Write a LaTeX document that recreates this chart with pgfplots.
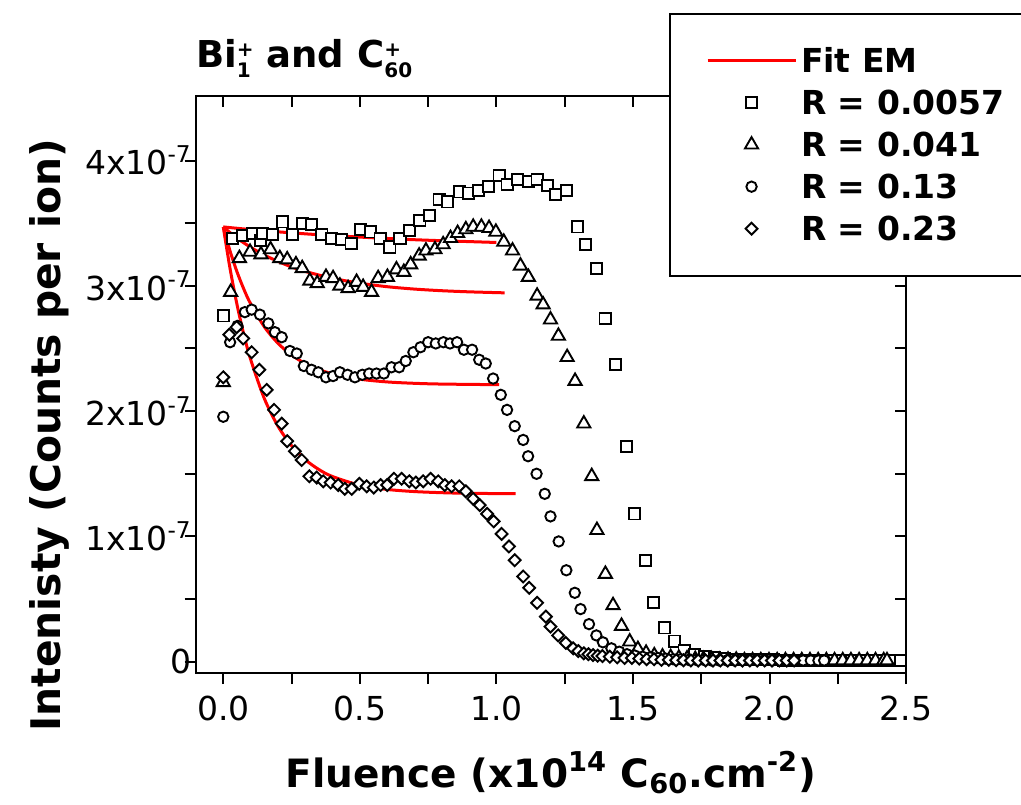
\documentclass[border=0pt]{standalone}
\usepackage{pgfplots}
\pgfplotsset{compat=1.18}
\usepackage{fontspec}
\setmainfont{DejaVu Sans}
\newcommand{\tickfont}{\fontsize{16.5}{19}\selectfont}
\newcommand{\xlabfont}{\fontsize{19.5}{23}\selectfont\bfseries}
\newcommand{\ylabfont}{\fontsize{20.4}{24}\selectfont\bfseries}
\newcommand{\legfont}{\fontsize{16.5}{19}\selectfont\bfseries}
\newcommand{\titfont}{\fontsize{18.5}{22}\selectfont\bfseries}
\newcommand{\stk}[2]{\raisebox{-4.6pt}{\fontsize{10}{11.5}\selectfont\shortstack[l]{#1\\#2}}}
\begin{document}
\begin{tikzpicture}
\pgfplotsset{
  common/.style={
    scale only axis, width=355.2pt, height=288.5pt,
    xmin=-0.101, xmax=2.5, ymin=-0.09, ymax=4.515,
    xtick={0,0.5,1,1.5,2,2.5}, ytick={0,1,2,3,4},
    minor x tick num=1, minor y tick num=1,
    major tick length=5.5pt, minor tick length=5.5pt,
    tick style={line width=1pt, black},
    axis line style={line width=1pt},
  }
}
\begin{axis}[common, tick align=inside, xtick pos=right, ytick pos=right,
  xticklabels={}, yticklabels={}]
\addplot[draw=none] coordinates {(0,0)};
\end{axis}
\begin{axis}[common, tick align=outside, xtick pos=left, ytick pos=left,
  xticklabels={0.0,0.5,1.0,1.5,2.0,2.5},
  yticklabels={0,1x10\textsuperscript{-7},2x10\textsuperscript{-7},3x10\textsuperscript{-7},4x10\textsuperscript{-7}},
  tick label style={font=\tickfont},
  yticklabel style={xshift=7pt},
  xticklabel style={yshift=-2.5pt},
  xlabel={Fluence (x10\textsuperscript{14} C\textsubscript{60}.cm\textsuperscript{-2})},
  ylabel={Intenisty (Counts per ion)},
  x label style={font=\xlabfont, at={(axis description cs:0.5,-0.1976)}, anchor=base},
  y label style={font=\ylabfont, at={(axis description cs:-0.191,0.412)}, anchor=base},
  title={Bi\stk{+}{1} and C\stk{+}{60}},
  title style={font=\titfont, inner sep=0pt, at={(axis description cs:0,1.028)}, anchor=base west},
  legend style={at={(0.6663,1.1444)}, anchor=north west, draw=black, line width=1pt, fill=white,
    inner xsep=18pt, inner ysep=13pt, row sep=0pt, font=\legfont,
    nodes={text height=14pt, text depth=2pt, inner ysep=2.5pt}},
  legend cell align=left,
  legend image code/.code={\draw[mark repeat=2,mark phase=2,#1] plot coordinates {(0pt,0pt) (22pt,0pt) (44pt,0pt)};},
  mk/.style={only marks, line width=0.95pt},
]
\addlegendimage{red, line width=1.5pt}
\addlegendentry{\makebox[150pt][l]{Fit EM}}
% R = 0.0057 squares
\addplot[mk, mark=square*, mark size=2.8pt, mark options={fill=white, draw=black}] coordinates {
(0,2.76)(0.034,3.38)(0.07,3.40)(0.106,3.42)(0.135,3.36)(0.145,3.42)(0.18,3.41)(0.217,3.51)(0.253,3.41)(0.289,3.50)
(0.323,3.49)(0.361,3.41)(0.395,3.38)(0.432,3.37)(0.468,3.34)(0.504,3.45)(0.54,3.43)(0.574,3.38)(0.61,3.31)(0.647,3.38)
(0.682,3.44)(0.72,3.52)(0.754,3.56)(0.79,3.69)(0.822,3.67)(0.864,3.75)(0.898,3.74)(0.934,3.76)(0.971,3.79)(1.01,3.88)
(1.039,3.81)(1.078,3.85)(1.117,3.83)(1.149,3.85)(1.188,3.80)(1.217,3.73)(1.256,3.76)(1.298,3.47)(1.327,3.33)(1.366,3.14)
(1.398,2.74)(1.437,2.37)(1.476,1.72)(1.506,1.18)(1.547,0.81)(1.576,0.47)(1.616,0.27)(1.653,0.165)(1.687,0.088)(1.726,0.06)
(1.762,0.04)(1.798,0.03)(1.834,0.025)(1.87,0.02)(1.906,0.02)(1.942,0.015)(1.978,0.015)(2.014,0.015)(2.05,0.01)(2.086,0.01)
(2.122,0.01)(2.158,0.01)(2.194,0.01)(2.23,0.01)(2.266,0.01)(2.302,0.01)(2.338,0.01)(2.374,0.01)(2.41,0.01)(2.446,0.01)(2.48,0.01)
};
\addlegendentry{R = 0.0057}
% R = 0.041 triangles
\addplot[mk, mark=triangle*, mark size=3.8pt, mark options={fill=white, draw=black}] coordinates {
(0,2.23)(0.027,2.95)(0.059,3.22)(0.098,3.27)(0.138,3.25)(0.173,3.29)(0.207,3.22)(0.234,3.21)(0.266,3.17)(0.289,3.14)
(0.317,3.04)(0.344,3.02)(0.376,3.07)(0.402,3.06)(0.427,3.00)(0.457,2.98)(0.488,3.03)(0.512,2.99)(0.543,2.95)(0.567,3.06)
(0.601,3.07)(0.634,3.13)(0.661,3.11)(0.686,3.17)(0.717,3.24)(0.742,3.28)(0.775,3.29)(0.805,3.33)(0.832,3.38)(0.858,3.42)
(0.888,3.45)(0.915,3.47)(0.945,3.47)(0.973,3.46)(0.998,3.43)(1.027,3.35)(1.059,3.28)(1.088,3.16)(1.117,3.07)(1.149,2.92)
(1.171,2.85)(1.198,2.73)(1.227,2.60)(1.259,2.43)(1.288,2.24)(1.32,1.90)(1.349,1.48)(1.368,1.05)(1.399,0.70)(1.427,0.45)
(1.458,0.285)(1.488,0.16)(1.518,0.10)(1.548,0.07)(1.578,0.05)(1.608,0.04)(1.638,0.035)(1.668,0.03)(1.698,0.025)(1.728,0.02)
(1.758,0.02)(1.788,0.02)(1.818,0.015)(1.848,0.015)(1.878,0.015)(1.908,0.01)(1.938,0.01)(1.968,0.01)(1.998,0.01)(2.028,0.01)
(2.058,0.01)(2.088,0.01)(2.118,0.01)(2.148,0.01)(2.178,0.01)(2.208,0.01)(2.238,0.01)(2.268,0.01)(2.298,0.01)(2.328,0.01)
(2.358,0.01)(2.388,0.01)(2.418,0.01)(2.43,0.01)
};
\addlegendentry{R = 0.041}
% R = 0.13 circles
\addplot[mk, mark=*, mark size=2.6pt, mark options={fill=white, draw=black}] coordinates {
(0,1.955)(0.025,2.55)(0.052,2.68)(0.079,2.79)(0.104,2.81)(0.134,2.77)(0.165,2.70)(0.189,2.63)(0.214,2.59)(0.244,2.48)
(0.269,2.46)(0.295,2.36)(0.323,2.33)(0.348,2.31)(0.376,2.27)(0.402,2.28)(0.427,2.31)(0.455,2.29)(0.482,2.27)(0.509,2.29)
(0.534,2.30)(0.561,2.30)(0.588,2.30)(0.616,2.35)(0.644,2.35)(0.668,2.40)(0.696,2.47)(0.722,2.51)(0.75,2.55)(0.778,2.54)
(0.806,2.55)(0.83,2.54)(0.856,2.55)(0.881,2.49)(0.911,2.49)(0.937,2.41)(0.961,2.38)(0.988,2.26)(1.016,2.13)(1.039,2.01)
(1.067,1.88)(1.098,1.77)(1.116,1.64)(1.147,1.50)(1.177,1.34)(1.198,1.16)(1.228,0.96)(1.256,0.73)(1.287,0.55)(1.308,0.42)
(1.339,0.30)(1.366,0.21)(1.39,0.155)(1.421,0.107)(1.45,0.08)(1.478,0.06)(1.506,0.05)(1.535,0.04)(1.563,0.035)(1.591,0.03)
(1.619,0.025)(1.647,0.02)(1.675,0.02)(1.703,0.015)(1.731,0.015)(1.759,0.015)(1.787,0.01)(1.815,0.01)(1.843,0.01)(1.871,0.01)
(1.899,0.01)(1.927,0.01)(1.955,0.01)(1.983,0.01)(2.011,0.01)(2.039,0.01)(2.067,0.01)(2.095,0.01)(2.123,0.01)(2.151,0.01)
(2.179,0.01)(2.2,0.01)
};
\addlegendentry{R = 0.13}
% R = 0.23 diamonds
\addplot[mk, mark=square*, mark size=2.1pt, mark options={fill=white, draw=black, rotate=45}] coordinates {
(0,2.27)(0.022,2.61)(0.049,2.67)(0.073,2.58)(0.104,2.47)(0.132,2.33)(0.159,2.17)(0.186,2.01)(0.214,1.90)(0.234,1.76)
(0.262,1.68)(0.287,1.61)(0.315,1.48)(0.342,1.47)(0.366,1.44)(0.393,1.43)(0.421,1.41)(0.445,1.38)(0.47,1.38)(0.498,1.42)
(0.525,1.40)(0.551,1.39)(0.576,1.41)(0.6,1.41)(0.625,1.46)(0.653,1.46)(0.681,1.44)(0.705,1.43)(0.732,1.44)(0.759,1.46)
(0.787,1.44)(0.811,1.41)(0.836,1.40)(0.864,1.40)(0.888,1.36)(0.915,1.30)(0.939,1.25)(0.966,1.18)(0.99,1.12)(1.019,1.02)
(1.046,0.92)(1.067,0.81)(1.098,0.68)(1.12,0.59)(1.149,0.47)(1.181,0.36)(1.198,0.28)(1.226,0.21)(1.254,0.15)(1.281,0.107)
(1.30,0.085)(1.32,0.067)(1.337,0.06)(1.354,0.053)(1.371,0.048)(1.388,0.045)(1.415,0.04)(1.442,0.035)(1.469,0.03)(1.496,0.03)
(1.523,0.025)(1.55,0.02)(1.577,0.02)(1.604,0.015)(1.631,0.015)(1.658,0.012)(1.685,0.012)(1.712,0.01)(1.739,0.01)(1.766,0.01)
(1.793,0.01)(1.82,0.01)(1.847,0.01)(1.874,0.01)(1.901,0.01)(1.928,0.01)(1.955,0.01)(1.982,0.01)(2.009,0.01)(2.036,0.01)
(2.063,0.01)(2.09,0.01)
};
\addlegendentry{R = 0.23}
% fits
\addplot[red, line width=1.5pt, smooth, forget plot] coordinates {
(0,3.47)(0.1,3.449)(0.2,3.431)(0.3,3.415)(0.4,3.401)(0.5,3.389)(0.6,3.378)(0.7,3.368)(0.8,3.360)(0.9,3.353)(1.0,3.346)};
\addplot[red, line width=1.5pt, smooth, forget plot] coordinates {
(0,3.47)(0.05,3.381)(0.1,3.308)(0.15,3.246)(0.2,3.195)(0.25,3.151)(0.3,3.115)(0.4,3.060)(0.5,3.021)(0.6,2.993)(0.7,2.974)(0.8,2.961)(0.9,2.952)(1.03,2.944)};
\addplot[red, line width=1.5pt, smooth, forget plot] coordinates {
(0,3.47)(0.025,3.276)(0.05,3.113)(0.075,2.975)(0.1,2.857)(0.15,2.674)(0.2,2.542)(0.25,2.448)(0.3,2.380)(0.35,2.332)(0.4,2.298)(0.5,2.255)(0.6,2.233)(0.7,2.222)(0.8,2.216)(1.01,2.211)};
\addplot[red, line width=1.5pt, smooth, forget plot] coordinates {
(0,3.47)(0.025,3.135)(0.05,2.853)(0.075,2.614)(0.1,2.414)(0.15,2.102)(0.2,1.881)(0.25,1.724)(0.3,1.613)(0.35,1.534)(0.4,1.478)(0.5,1.409)(0.6,1.375)(0.7,1.358)(0.8,1.349)(0.9,1.344)(1.07,1.341)};
\end{axis}
\pgfresetboundingbox
\path[use as bounding box] (current axis.south west) ++(-97.85pt,-65.5pt) rectangle ++(510.5pt,402pt);
\end{tikzpicture}
\end{document}
